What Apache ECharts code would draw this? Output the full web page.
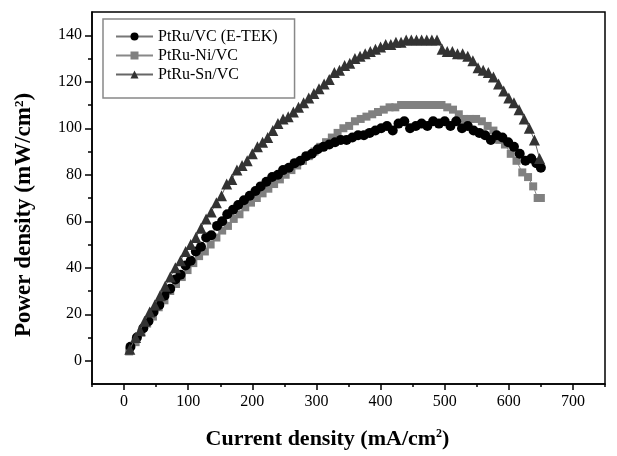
<!DOCTYPE html>
<html><head><meta charset="utf-8">
<script src="https://cdn.jsdelivr.net/npm/echarts@6/dist/echarts.min.js"></script>
<style>html,body{margin:0;padding:0;background:#fff}#c{width:617px;height:456px}</style>
</head><body><div id="c"></div>
<script>
// ---- data ----
const xMajorTicks = [0, 100, 200, 300, 400, 500, 600, 700];
const xMinorTicks = [-50, 50, 150, 250, 350, 450, 550, 650, 750];
const yMajorTicks = [0, 20, 40, 60, 80, 100, 120, 140];
const yMinorTicks = [10, 30, 50, 70, 90, 110, 130];

const seriesNames = ['PtRu/VC (E-TEK)', 'PtRu-Ni/VC', 'PtRu-Sn/VC'];

const eTekX = [10,20,30,38,46,55,63,72,80,88,96,104,112,120,128,136,145,153,161,170,178,187,196,205,213,222,231,240,248,257,266,275,284,293,302,311,320,329,338,347,356,365,374,383,392,401,410,419,428,437,446,455,464,473,482,491,500,509,518,527,536,545,554,563,572,581,590,599,608,617,626,635,643,650];
const eTekY = [6,10,14,17,21,24,28,31,35,37,41,43,47,49,53,54,58,60,63,65,67,69,71,73,75,77,79,80,82,83,85,86,88,89,91,92,93,94,95,95,96,97,97,98,99,100,101,99,102,103,100,101,102,101,103,102,103,101,103,100,101,99,98,97,95,97,96,94,92,89,86,87,85,83];

const niX = [8,18,27,36,45,54,63,72,81,90,99,108,117,126,135,144,153,162,171,180,189,198,207,216,225,234,243,252,261,270,279,288,297,306,315,324,333,342,351,360,369,378,387,396,405,414,423,432,441,450,459,468,477,486,495,504,513,522,531,540,549,558,567,576,585,594,603,612,621,630,638,645,650];
const niY = [4,8,12,16,19,23,26,30,33,36,39,42,45,47,50,53,56,58,61,63,66,68,70,72,74,76,78,80,82,84,86,88,90,92,94,96,98,100,101,103,104,105,106,107,108,109,109,110,110,110,110,110,110,110,110,109,108,106,104,104,104,103,101,99,95,93,89,86,81,79,75,70,70];

const snX = [9,18,25,32,40,48,56,64,72,80,88,96,104,112,120,128,136,144,152,160,168,176,184,192,200,208,216,224,232,240,248,256,264,272,280,288,296,304,312,320,328,336,344,352,360,368,376,384,392,400,408,416,424,432,440,448,456,464,472,480,488,496,504,512,520,528,536,544,552,560,568,576,584,592,600,608,616,624,632,640,648];
const snY = [5,10,13,17,21,24,28,32,36,40,43,47,50,53,57,61,64,68,71,76,78,82,84,86,89,92,94,96,99,102,104,105,107,109,111,113,115,117,119,121,124,125,127,128,130,131,132,133,134,135,136,136,137,137,138,138,138,138,138,138,138,134,133,133,132,132,131,129,126,125,124,122,119,116,113,111,108,104,100,95,87];

const zip = (xs, ys) => xs.map((x, i) => [x, ys[i]]);

const FONT = 'Liberation Serif';
const chart = echarts.init(document.getElementById('c'), null, {renderer: 'canvas'});

const baseAxisLine = {show: true, onZero: false, lineStyle: {color: '#000', width: 1.5}};

chart.setOption({
  animation: false,
  backgroundColor: '#fff',
  grid: {left: 92, top: 12, width: 513, height: 372, show: true, borderColor: '#000', borderWidth: 1.5, backgroundColor: 'transparent'},
  legend: {
    left: 103, top: 19, orient: 'vertical',
    data: seriesNames,
    padding: [9, 17, 15, 12],
    itemGap: 2, itemWidth: 37, itemHeight: 10,
    borderColor: '#888', borderWidth: 1.5, borderRadius: 0,
    textStyle: {fontFamily: FONT, fontSize: 16, color: '#000', lineHeight: 17}
  },
  xAxis: [{
    type: 'value', min: -50, max: 750, position: 'bottom',
    axisLine: baseAxisLine,
    axisTick: {show: true, inside: false, length: 6, customValues: xMajorTicks, lineStyle: {color: '#000', width: 1.5}},
    axisLabel: {customValues: xMajorTicks, color: '#000', fontFamily: FONT, fontSize: 16, margin: 10},
    splitLine: {show: false},
    name: 'Current density (mA/cm{sup|2})',
    nameLocation: 'middle', nameGap: 44,
    nameTextStyle: {fontFamily: FONT, fontSize: 22, fontWeight: 'bold', color: '#000', padding: [0, 42, 0, 0],
      rich: {sup: {fontFamily: FONT, fontSize: 12, fontWeight: 'bold', color: '#000', verticalAlign: 'top'}}}
  }, {
    type: 'value', min: -50, max: 750, position: 'bottom',
    axisLine: {show: false, onZero: false},
    axisTick: {show: true, inside: false, length: 3, customValues: xMinorTicks, lineStyle: {color: '#000', width: 1.5}},
    axisLabel: {show: false},
    splitLine: {show: false}
  }],
  yAxis: [{
    type: 'value', min: -10, max: 150, position: 'left',
    axisLine: baseAxisLine,
    axisTick: {show: true, inside: false, length: 7, customValues: yMajorTicks, lineStyle: {color: '#000', width: 1.5}},
    axisLabel: {customValues: yMajorTicks, color: '#000', fontFamily: FONT, fontSize: 16, margin: 10},
    splitLine: {show: false},
    name: 'Power density (mW/cm{sup|2})',
    nameLocation: 'middle', nameGap: 56, nameRotate: 90,
    nameTextStyle: {fontFamily: FONT, fontSize: 23, fontWeight: 'bold', color: '#000', padding: [0, 34, 0, 0],
      rich: {sup: {fontFamily: FONT, fontSize: 13, fontWeight: 'bold', color: '#000', verticalAlign: 'top'}}}
  }, {
    type: 'value', min: -10, max: 150, position: 'left',
    axisLine: {show: false, onZero: false},
    axisTick: {show: true, inside: false, length: 4, customValues: yMinorTicks, lineStyle: {color: '#000', width: 1.5}},
    axisLabel: {show: false},
    splitLine: {show: false}
  }],
  series: [{
    name: seriesNames[0], type: 'line', xAxisIndex: 0, yAxisIndex: 0, z: 3,
    data: zip(eTekX, eTekY), symbol: 'circle', symbolSize: 10,
    itemStyle: {color: '#000'}, lineStyle: {color: '#777', width: 1}
  }, {
    name: seriesNames[1], type: 'line', xAxisIndex: 0, yAxisIndex: 0, z: 2,
    data: zip(niX, niY), symbol: 'rect', symbolSize: 8,
    itemStyle: {color: '#808080'}, lineStyle: {color: '#888', width: 1}
  }, {
    name: seriesNames[2], type: 'line', xAxisIndex: 0, yAxisIndex: 0, z: 4,
    data: zip(snX, snY), symbol: 'triangle', symbolSize: 11,
    itemStyle: {color: '#333'}, lineStyle: {color: '#666', width: 1}
  }]
});
</script></body></html>
